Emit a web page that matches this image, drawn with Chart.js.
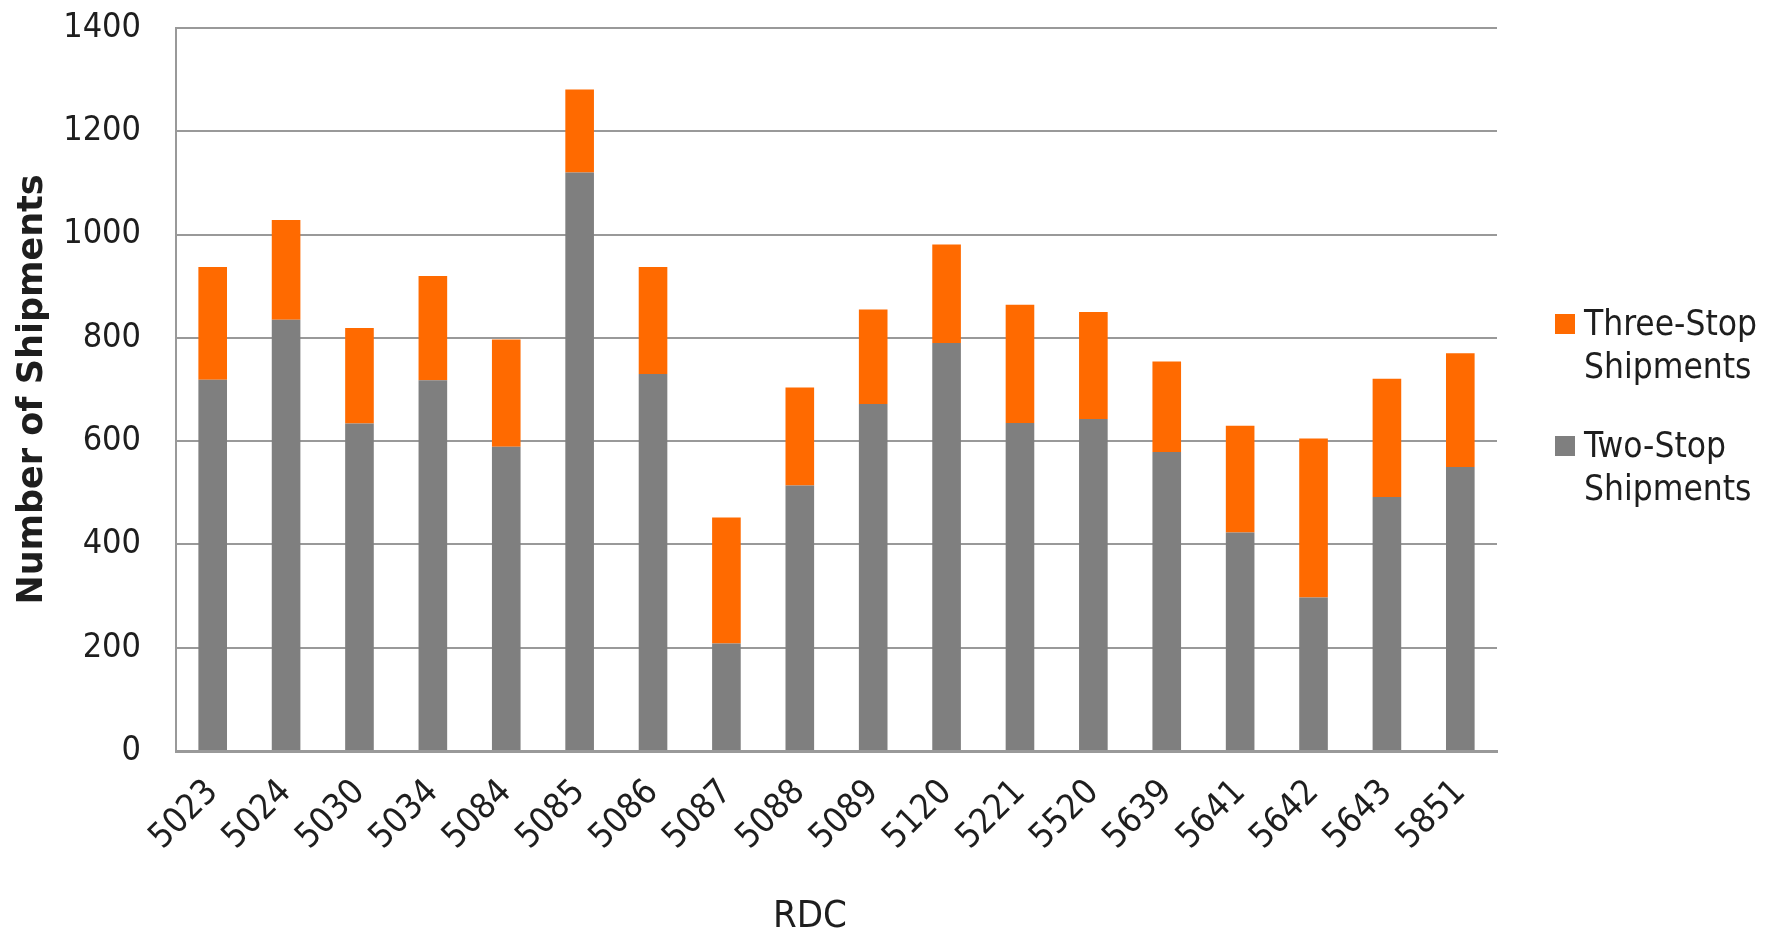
<!DOCTYPE html>
<html lang="en">
<head>
    <meta charset="UTF-8">
    <title>Shipments by RDC</title>
    <script src="https://cdn.jsdelivr.net/npm/chart.js"></script>
    <style>
        body {
            margin: 0;
            padding: 0;
            background: white;
            font-family: 'Liberation Sans Narrow', 'DejaVu Sans Condensed', sans-serif;
        }

        .wrap {
            position: relative;
            width: 1772px;
            height: 932px;
        }

        .legend {
            position: absolute;
            left: 1555px;
            top: 302px;
            color: #1e1e1e;
            font-size: 35px;
            line-height: 43px;
        }

        .legend .item {
            position: relative;
            padding-left: 29px;
            margin-bottom: 36px;
        }

        .legend .box {
            position: absolute;
            left: 0;
            top: 12px;
            width: 20px;
            height: 20px;
        }

        .x-title {
            position: absolute;
            left: 710px;
            top: 895px;
            width: 200px;
            text-align: center;
            font-size: 38px;
            line-height: 38px;
            color: #1e1e1e;
        }
    </style>
</head>
<body>

    <div class="wrap">
        <canvas id="shipChart"></canvas>
        <div class="legend" id="legend"></div>
        <div class="x-title">RDC</div>
    </div>

    <script>
        const rdcLabels = ['5023', '5024', '5030', '5034', '5084', '5085', '5086', '5087', '5088',
                           '5089', '5120', '5221', '5520', '5639', '5641', '5642', '5643', '5851'];
        const twoStop = [719, 835, 634, 718, 589, 1120, 730, 208, 514, 672, 790, 635, 643, 579, 423, 297, 492, 550];
        const threeStop = [218, 193, 185, 202, 208, 161, 207, 244, 190, 183, 191, 229, 207, 175, 207, 308, 229, 220];
        const yTicks = [0, 200, 400, 600, 800, 1000, 1200, 1400];

        const GRAY = '#7f7f7f';
        const ORANGE = '#ff6a00';
        const LINE = '#999999';
        const narrow = "'Liberation Sans Narrow', 'DejaVu Sans Condensed', sans-serif";

        // legend items, top to bottom
        const legendItems = [
            { lines: ['Three-Stop', 'Shipments'], color: ORANGE },
            { lines: ['Two-Stop', 'Shipments'], color: GRAY }
        ];

        const legendEl = document.getElementById('legend');
        legendItems.forEach(item => {
            const div = document.createElement('div');
            div.className = 'item';
            div.innerHTML = `<span class="box" style="background:${item.color}"></span>${item.lines.join('<br>')}`;
            legendEl.appendChild(div);
        });

        const ctx = document.getElementById('shipChart').getContext('2d');
        const chart = new Chart(ctx, {
            type: 'bar',
            data: {
                labels: rdcLabels,
                datasets: [
                    { label: 'Two-Stop Shipments', data: twoStop, backgroundColor: GRAY },
                    { label: 'Three-Stop Shipments', data: threeStop, backgroundColor: ORANGE }
                ]
            },
            options: {
                responsive: true,
                maintainAspectRatio: false,
                animation: false,
                categoryPercentage: 1,
                barPercentage: 0.39,
                layout: {
                    padding: { left: 15, right: 275, top: 28, bottom: 0 }
                },
                plugins: {
                    legend: { display: false },
                    tooltip: { enabled: false }
                },
                scales: {
                    x: {
                        stacked: true,
                        afterFit: axis => { axis.height = 181; },
                        grid: { display: false, drawTicks: false },
                        border: { color: LINE, width: 3 },
                        ticks: {
                            color: '#1e1e1e',
                            font: { family: narrow, size: 35 },
                            maxRotation: 45,
                            minRotation: 45,
                            padding: 21,
                            autoSkip: false
                        }
                    },
                    y: {
                        stacked: true,
                        min: 0,
                        max: 1400,
                        afterBuildTicks: axis => {
                            axis.ticks = yTicks.map(v => ({ value: v }));
                        },
                        afterFit: axis => { axis.width = 161; },
                        grid: { color: LINE, lineWidth: 2, drawTicks: true, tickLength: 33, tickColor: 'rgba(0,0,0,0)' },
                        border: { color: LINE, width: 2 },
                        ticks: {
                            color: '#1e1e1e',
                            font: { family: narrow, size: 34 },
                            padding: 2,
                            callback: v => String(v)
                        },
                        title: {
                            display: true,
                            text: 'Number of Shipments',
                            color: '#1e1e1e',
                            font: { family: 'DejaVu Sans', size: 35, weight: 'bold', lineHeight: 1 },
                            padding: { top: 0, bottom: 16 }
                        }
                    }
                }
            }
        });
    </script>

</body>
</html>
